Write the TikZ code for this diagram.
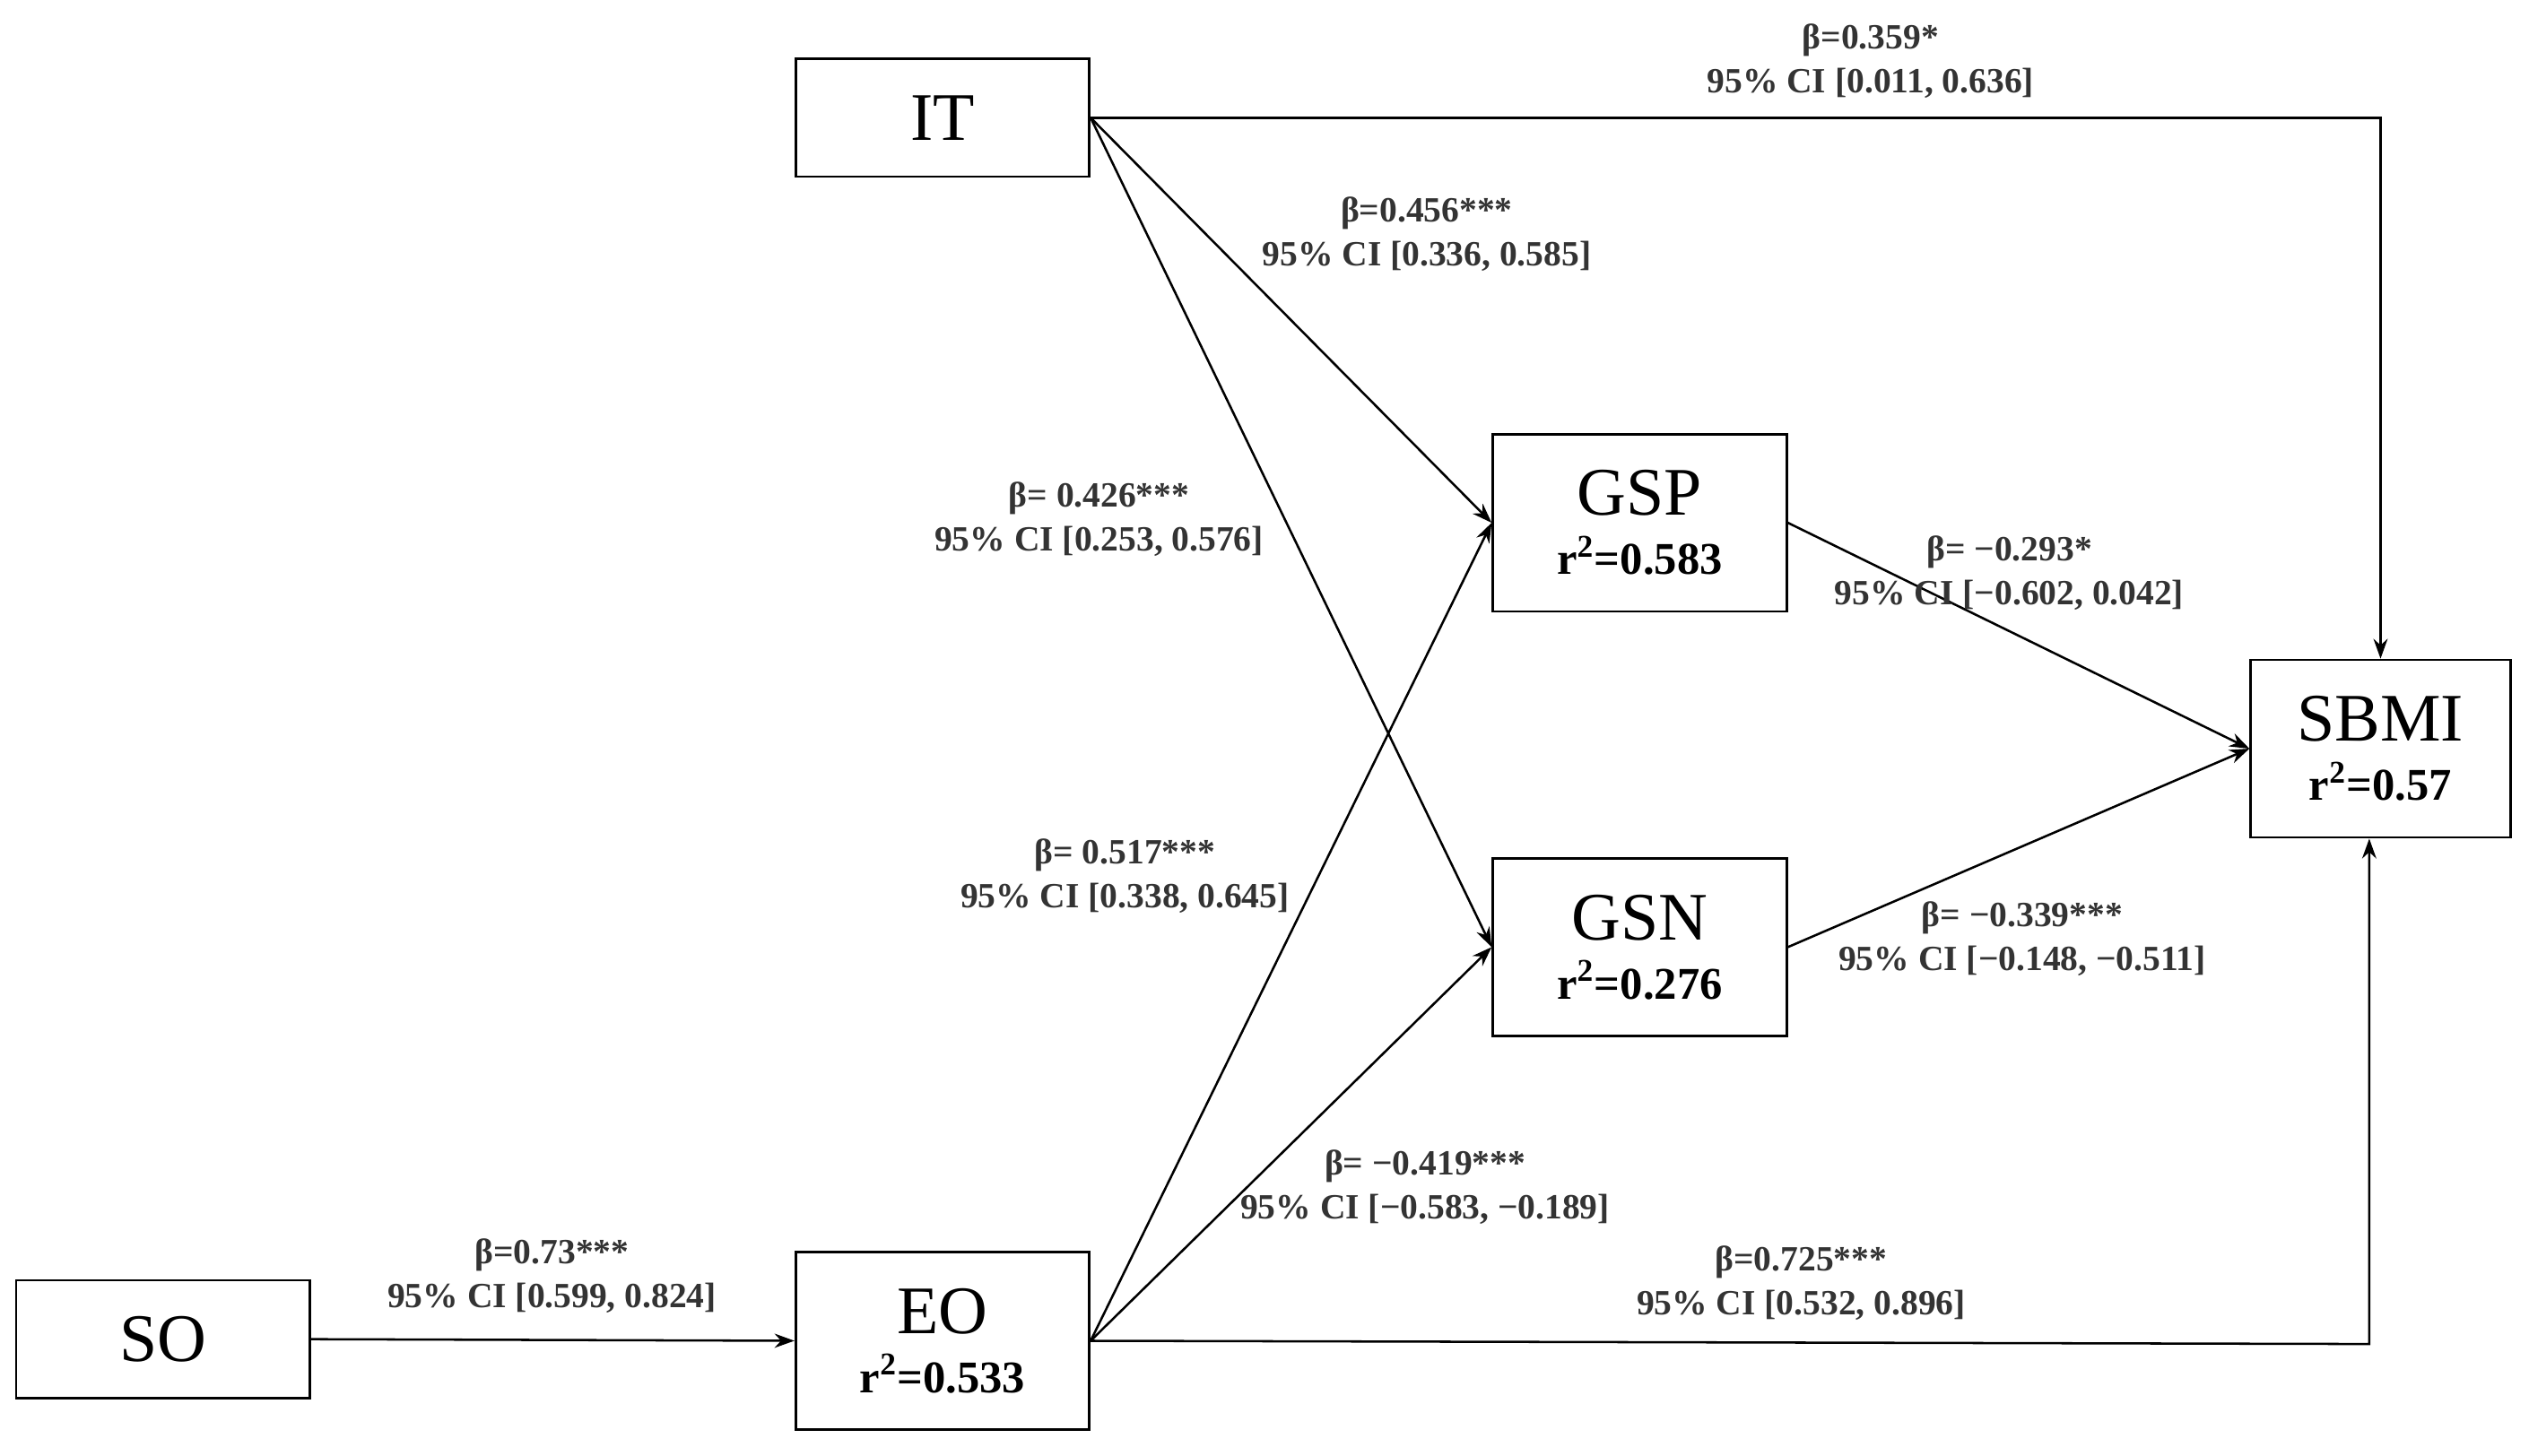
\documentclass[tikz,border=0pt]{standalone}
\usepackage{fontspec}
\setmainfont{Liberation Serif}
\usetikzlibrary{arrows.meta}
\begin{document}
\begin{tikzpicture}[x=0.02cm,y=-0.02cm,
 box/.style={draw,line width=0.9pt,minimum width=3.64cm,inner sep=0pt,align=center},
 lab/.style={font=\fontsize{12.5}{15.5}\selectfont\bfseries,text=black!80,align=center,inner sep=1pt},
 arr/.style={line width=0.8pt,-{Stealth[length=7pt,width=5pt]}},
 big/.style={font=\fontsize{24}{26}\selectfont}]
\useasboundingbox (0,0) rectangle (1567,902);
\node[box,minimum height=1.46cm,big] (IT) at (584,73) {IT};
\node[box,minimum height=1.46cm,big] (SO) at (101,830) {SO};
\node[box,minimum height=2.2cm] (EO) at (584,831) {{\fontsize{24}{26}\selectfont EO}\\[6pt]{\fontsize{16}{18}\selectfont\bfseries r\textsuperscript{2}=0.533}};
\node[box,minimum height=2.2cm] (GSP) at (1016,324) {{\fontsize{24}{26}\selectfont GSP}\\[6pt]{\fontsize{16}{18}\selectfont\bfseries r\textsuperscript{2}=0.583}};
\node[box,minimum height=2.2cm] (GSN) at (1016,587) {{\fontsize{24}{26}\selectfont GSN}\\[6pt]{\fontsize{16}{18}\selectfont\bfseries r\textsuperscript{2}=0.276}};
\node[box,minimum width=3.22cm,minimum height=2.2cm] (SBMI) at (1475,464) {{\fontsize{24}{26}\selectfont SBMI}\\[6pt]{\fontsize{16}{18}\selectfont\bfseries r\textsuperscript{2}=0.57}};
\coordinate (c1) at (1475,73);
\coordinate (c2) at (1468,833);
\draw[arr] (IT.east) -- (c1) -- (SBMI.north);
\draw[arr] (IT.east) -- (GSP.west);
\draw[arr] (IT.east) -- (GSN.west);
\draw[arr] (EO.east) -- (GSP.west);
\draw[arr] (EO.east) -- (GSN.west);
\draw[arr] (EO.east) -- (c2) -- (SBMI.south -| c2);
\draw[arr] (SO.east) -- (EO.west);
\draw[arr] (GSP.east) -- (SBMI.west);
\draw[arr] (GSN.east) -- (SBMI.west);
\node[lab] (l1) at (1159,38) {β=0.359*\\95\% CI [0.011, 0.636]};
\node[lab] (l2) at (884,145) {β=0.456***\\95\% CI [0.336, 0.585]};
\node[lab] (l3) at (681,322) {β= 0.426***\\95\% CI [0.253, 0.576]};
\node[lab] (l4) at (697,543) {β= 0.517***\\95\% CI [0.338, 0.645]};
\node[lab] (l5) at (883,736) {β= −0.419***\\95\% CI [−0.583, −0.189]};
\node[lab] (l6) at (342,791) {β=0.73***\\95\% CI [0.599, 0.824]};
\node[lab] (l7) at (1116,795) {β=0.725***\\95\% CI [0.532, 0.896]};
\node[lab] (l8) at (1245,355) {β= −0.293*\\95\% CI [−0.602, 0.042]};
\node[lab] (l9) at (1253,582) {β= −0.339***\\95\% CI [−0.148, −0.511]};
\end{tikzpicture}
\end{document}
